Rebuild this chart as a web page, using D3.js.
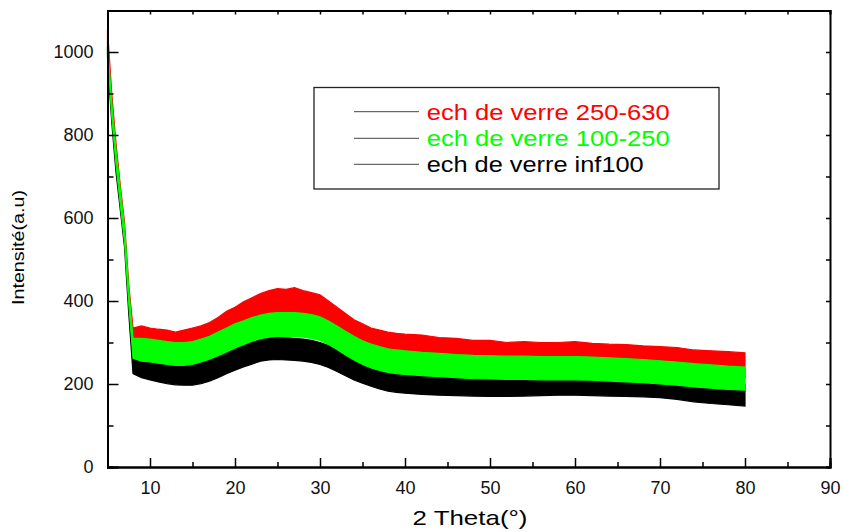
<!DOCTYPE html>
<html>
<head>
<meta charset="utf-8">
<script src="https://cdn.jsdelivr.net/npm/d3@7/dist/d3.min.js"></script>
<style>
  html, body { margin: 0; padding: 0; background: #fff; }
  svg { display: block; font-family: "Liberation Sans", Arial, sans-serif; }
</style>
</head>
<body>
<svg id="chart" width="844" height="532"></svg>
<script>
// ---- data ----
const theta = [5,5.5,6,6.5,7,7.5,8,
  9,10,11,12,13,14,15,16,17,18,19,20,21,22,23,24,25,26,27,28,29,30,31,32,33,34,35,36,37,38,39,40,
  42,44,46,48,50,52,54,56,58,60,62,64,66,68,70,72,74,76,78,80];

// upper / lower envelope of the noisy traces
const redHi = [1055,900,780,680,590,440,335, 340,335,332,330,325,330,335,340,348,360,375,385,398,408,418,425,430,428,432,425,420,415,400,385,370,355,345,335,330,325,322,320, 318,312,310,305,305,300,302,300,300,302,298,296,295,292,290,288,282,280,278,275];
const redLo = [1020,860,740,640,550,400,275, 270,270,268,265,262,265,268,275,285,295,308,318,328,338,345,352,355,358,355,355,350,345,332,318,302,290,280,270,265,262,258,255, 250,248,245,242,240,238,238,237,238,238,236,234,232,230,228,225,220,218,216,214];
const greenHi = [1025,880,765,670,580,430,310, 310,308,305,302,300,300,302,308,315,325,335,345,352,360,366,370,372,372,372,370,367,362,352,340,327,315,304,296,290,285,282,280, 276,274,271,269,268,267,267,266,266,266,265,263,261,259,256,253,249,246,243,241];
const greenLo = [995,845,728,632,542,392,262, 255,253,250,247,245,245,247,253,260,268,277,287,295,303,309,313,315,315,315,313,310,305,295,283,270,258,247,239,233,228,225,223, 220,218,215,213,212,211,211,210,210,210,209,207,205,203,200,197,193,190,187,185];
const blackHi = [1015,870,750,660,570,410,278, 268,263,258,254,251,250,250,254,260,268,278,286,294,301,308,311,312,311,310,308,305,300,293,283,273,263,255,248,241,236,233,231, 228,226,225,224,223,223,224,225,226,226,225,224,223,222,220,216,210,206,203,200];
const blackLo = [985,830,710,620,530,370,225, 215,210,205,201,198,197,197,201,207,215,225,233,241,248,255,258,259,258,257,255,252,247,240,230,220,210,202,195,188,183,180,178, 175,173,172,171,170,170,171,172,173,173,172,171,170,169,167,163,157,153,150,147];

const seriesNames = ["ech de verre 250-630", "ech de verre 100-250", "ech de verre inf100"];
const seriesColors = ["#ff0000", "#00ff00", "#000000"];

const xTicks = [10,20,30,40,50,60,70,80,90];
const xMinor = [5,15,25,35,45,55,65,75,85];
const yTicks = [0,200,400,600,800,1000];
const yMinor = [100,300,500,700,900,1100];

// ---- layout ----
const svg = d3.select("#chart");
const x = d3.scaleLinear().domain([5, 90]).range([107.5, 830]);
const y = d3.scaleLinear().domain([0, 1100]).range([467, 10.5]);

const area = d3.area().x((d) => x(d.t)).y0((d) => y(d.lo)).y1((d) => y(d.hi));
function build(hi, lo) { return theta.map((t, i) => ({t, hi: hi[i], lo: lo[i]})); }

const bands = [
  {data: build(redHi, redLo), color: seriesColors[0]},
  {data: build(blackHi, blackLo), color: seriesColors[2]},
  {data: build(greenHi, greenLo), color: seriesColors[1]}
];
const g = svg.append("g");
bands.forEach((b) => {
  g.append("path").datum(b.data).attr("d", area)
    .attr("fill", b.color).attr("stroke", b.color).attr("stroke-width", 1.2);
});

// ---- axes ----
const axisColor = "#000";
// bottom
const bottom = svg.append("g").attr("transform", `translate(0,${y(0)})`)
  .call(d3.axisBottom(x).tickValues(xTicks).tickSize(-9).tickPadding(14).tickFormat(d3.format("d")));
svg.append("g").attr("transform", `translate(0,${y(0)})`)
  .call(d3.axisBottom(x).tickValues(xMinor).tickSize(-5).tickFormat(""));
// left
svg.append("g").attr("transform", `translate(${x(5)},0)`)
  .call(d3.axisLeft(y).tickValues(yTicks).tickSize(-11).tickPadding(14).tickFormat(d3.format("d")));
svg.append("g").attr("transform", `translate(${x(5)},0)`)
  .call(d3.axisLeft(y).tickValues(yMinor).tickSize(-6).tickFormat(""));
// top
svg.append("g").attr("transform", `translate(0,${y(1100)})`)
  .call(d3.axisTop(x).tickValues(xTicks.concat(xMinor)).tickSize(-4).tickFormat(""));
// right
svg.append("g").attr("transform", `translate(${x(90)},0)`)
  .call(d3.axisRight(y).tickValues(yTicks.concat(yMinor)).tickSize(-4).tickFormat(""));

svg.selectAll(".domain").attr("stroke", axisColor).attr("stroke-width", 2);
svg.selectAll(".tick line").attr("stroke", axisColor).attr("stroke-width", 1.5);
svg.selectAll(".tick text").attr("font-size", 18).attr("fill", "#111")
  .attr("font-family", "'Liberation Sans', Arial, sans-serif");

// axis titles
svg.append("text").attr("x", 470).attr("y", 525).attr("text-anchor", "middle")
  .attr("font-size", 21).attr("textLength", 115).attr("lengthAdjust", "spacingAndGlyphs")
  .text("2 Theta(°)");
svg.append("text").attr("transform", "translate(24,247.5) rotate(-90)").attr("text-anchor", "middle")
  .attr("font-size", 16).attr("textLength", 115).attr("lengthAdjust", "spacingAndGlyphs")
  .text("Intensité(a.u)");

// ---- legend ----
const leg = svg.append("g");
leg.append("rect").attr("x", 314).attr("y", 87.5).attr("width", 405).attr("height", 101.5)
  .attr("fill", "#fff").attr("stroke", "#222").attr("stroke-width", 1.3);
const rowsY = [111.7, 138.3, 164.3];
const textLens = [243, 243, 217];
seriesNames.forEach((name, i) => {
  leg.append("line").attr("x1", 354).attr("x2", 419).attr("y1", rowsY[i]).attr("y2", rowsY[i])
    .attr("stroke", "#444").attr("stroke-width", 1);
  leg.append("text").attr("x", 426.7).attr("y", rowsY[i] + 8).attr("font-size", 22)
    .attr("fill", seriesColors[i]).attr("textLength", textLens[i]).attr("lengthAdjust", "spacingAndGlyphs")
    .text(name);
});
</script>
</body>
</html>
